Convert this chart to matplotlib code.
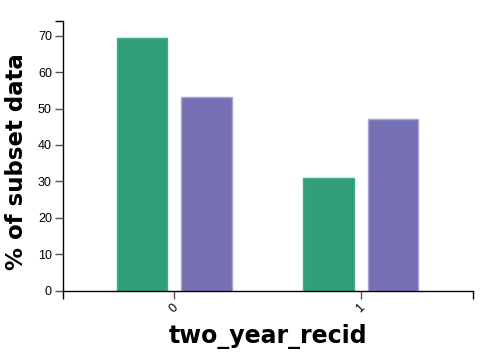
import matplotlib.pyplot as plt
import numpy as np

# data
categories = ['0', '1']
series_names = ['group a', 'group b']
values_a = [69.4, 30.9]
values_b = [53.1, 47.1]
colors = ['#31a07a', '#7570b3']
edges = ['#3fae86', '#a9a5d6']

fig = plt.figure(figsize=(4.83, 3.59), dpi=100)
ax = fig.add_axes([63 / 483, (359 - 290.7) / 359, 410.3 / 483, 270 / 359])

x = np.arange(len(categories))
w = 0.27
off = 0.172
ax.bar(x - off, values_a, width=w, color=colors[0], edgecolor=edges[0], linewidth=1)
ax.bar(x + off, values_b, width=w, color=colors[1], edgecolor=edges[1], linewidth=1)

ax.set_xlim(-0.597, 1.604)
ax.set_ylim(0, 74.1)

for s in ['top', 'right']:
    ax.spines[s].set_visible(False)
for s in ['left', 'bottom']:
    ax.spines[s].set_linewidth(1)

ax.set_yticks(np.arange(0, 71, 10))
ax.set_xticks(x)
ax.set_xticklabels(categories, rotation=45, ha='center', va='top')
# end ticks like a d3 axis
ax.set_xticks([-0.597, 1.604], minor=True)
ax.set_yticks([74.1], minor=True)
ax.tick_params(axis='both', which='both', length=6, width=1, color='#555555',
               labelsize=9, pad=2)
ax.tick_params(axis='both', which='minor', color='black')
for lab in ax.get_xticklabels() + ax.get_yticklabels():
    lab.set_family('Liberation Sans')

ax.set_xlabel('two_year_recid', fontsize=17, fontweight='bold',
              family='DejaVu Sans', labelpad=6)
ax.set_ylabel('% of subset data', fontsize=16.5, fontweight='bold',
              family='DejaVu Sans', labelpad=7)
# label sits a bit below the axis centre
ax.yaxis.label.set_y(0.477)

plt.savefig('out.png', dpi=100)
